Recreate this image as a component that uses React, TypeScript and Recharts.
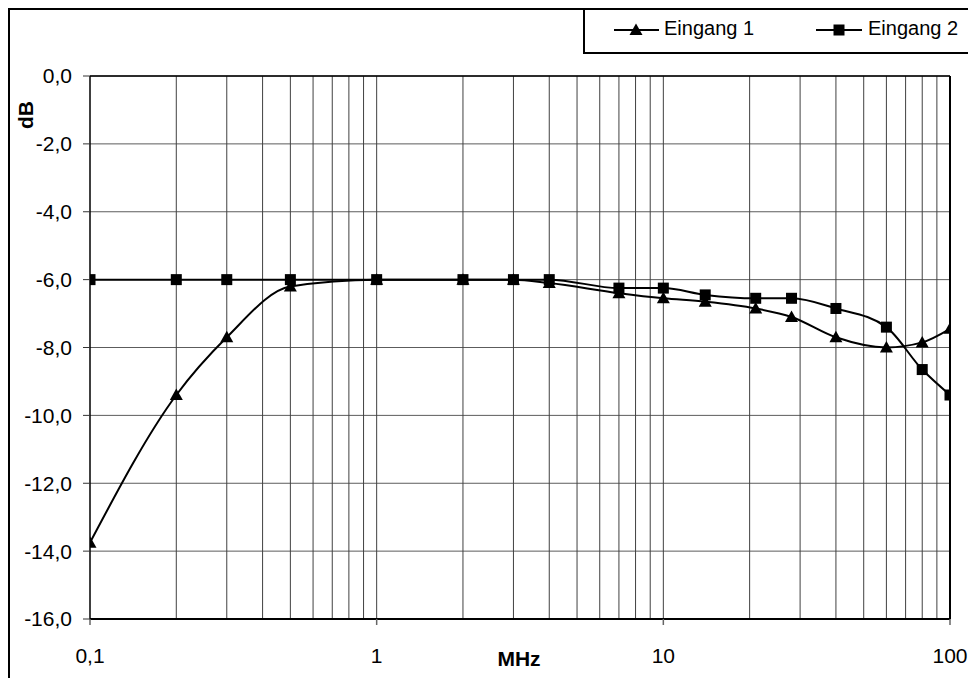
import React from 'react';
import {
  LineChart,
  Line,
  XAxis,
  YAxis,
  CartesianGrid,
  ReferenceLine,
  Legend,
  Label,
} from 'recharts';

const frequencies = [0.1, 0.2, 0.3, 0.5, 1, 2, 3, 4, 7, 10, 14, 21, 28, 40, 60, 80, 100];
const eingang1 = [-13.75, -9.4, -7.7, -6.2, -6.0, -6.0, -6.0, -6.1, -6.4, -6.55, -6.65, -6.85, -7.1, -7.7, -8.0, -7.85, -7.45];
const eingang2 = [-6.0, -6.0, -6.0, -6.0, -6.0, -6.0, -6.0, -6.0, -6.25, -6.25, -6.45, -6.55, -6.55, -6.85, -7.4, -8.65, -9.4];
const xTicks = [0.1, 1, 10, 100];
const yTicks = [-16, -14, -12, -10, -8, -6, -4, -2, 0];
const gridFreqs = [0.2, 0.3, 0.4, 0.5, 0.6, 0.7, 0.8, 0.9, 1, 2, 3, 4, 5, 6, 7, 8, 9, 10, 20, 30, 40, 50, 60, 70, 80, 90];
const seriesNames = ['Eingang 1', 'Eingang 2'];

const data = frequencies.map((f, i) => ({ f, e1: eingang1[i], e2: eingang2[i] }));

const FONT = '"Liberation Sans", Arial, sans-serif';

const fmtX = (v: number) => String(v).replace('.', ',');
const fmtY = (v: number) => v.toFixed(1).replace('.', ',');

const Triangle = (props: any) => {
  const { cx, cy, index } = props;
  if (cx == null || cy == null) return <g key={`t${index}`} />;
  return (
    <path
      key={`t${index}`}
      d={`M${cx},${cy - 6.5} L${cx + 6.5},${cy + 5} L${cx - 6.5},${cy + 5} Z`}
      fill="#000"
    />
  );
};

const Square = (props: any) => {
  const { cx, cy, index } = props;
  if (cx == null || cy == null) return <g key={`s${index}`} />;
  return <rect key={`s${index}`} x={cx - 5.5} y={cy - 5.5} width={11} height={11} fill="#000" />;
};

const LegendBox = () => (
  <div
    style={{
      position: 'relative',
      width: 400,
      height: 46,
      borderLeft: '2px solid #000',
      borderBottom: '2px solid #000',
      boxSizing: 'border-box',
      fontFamily: FONT,
      fontSize: 20,
      color: '#000',
    }}
  >
    <svg width={50} height={20} style={{ position: 'absolute', left: 29, top: 12 }}>
      <line x1={0} y1={10} x2={45} y2={10} stroke="#000" strokeWidth={2} />
      <path d="M22,3.5 L28.5,15 L15.5,15 Z" fill="#000" />
    </svg>
    <span style={{ position: 'absolute', left: 79, top: 9, whiteSpace: 'nowrap' }}>{seriesNames[0]}</span>
    <svg width={50} height={20} style={{ position: 'absolute', left: 231, top: 12 }}>
      <line x1={0} y1={10} x2={46} y2={10} stroke="#000" strokeWidth={2} />
      <rect x={17.5} y={4.5} width={11} height={11} fill="#000" />
    </svg>
    <span style={{ position: 'absolute', left: 283, top: 9, whiteSpace: 'nowrap' }}>{seriesNames[1]}</span>
  </div>
);

export default function App() {
  return (
    <div style={{ position: 'relative', width: 968, height: 670, fontFamily: FONT }}>
      <LineChart
        width={968}
        height={670}
        data={data}
        margin={{ top: 68, right: 26, left: 12, bottom: 9 }}
      >
        <CartesianGrid horizontal={true} vertical={false} stroke="#5c5c5c" strokeWidth={1} />
        {gridFreqs.map((g) => (
          <ReferenceLine key={`g${g}`} x={g} stroke="#404040" strokeWidth={1} ifOverflow="visible" />
        ))}
        <ReferenceLine y={0} stroke="#000" strokeWidth={1.5} />
        <ReferenceLine x={100} stroke="#000" strokeWidth={2} />
        <XAxis
          dataKey="f"
          type="number"
          scale="log"
          domain={[0.1, 100]}
          ticks={xTicks}
          tickFormatter={fmtX}
          allowDataOverflow
          height={50}
          tickSize={6}
          tickMargin={23}
          axisLine={{ stroke: '#000', strokeWidth: 2 }}
          tickLine={{ stroke: '#666', strokeWidth: 1.5 }}
          tick={{ fill: '#000', fontSize: 21, fontFamily: FONT }}
        >
          <Label
            content={() => (
              <text
                x={511}
                y={650}
                textAnchor="middle"
                dominantBaseline="central"
                fontSize={21}
                fontWeight="bold"
                fontFamily={FONT}
                fill="#000"
              >
                MHz
              </text>
            )}
          />
        </XAxis>
        <YAxis
          type="number"
          domain={[-16, 0]}
          ticks={yTicks}
          tickFormatter={fmtY}
          width={70}
          tickSize={7}
          tickMargin={11}
          axisLine={{ stroke: '#000', strokeWidth: 1.5 }}
          tickLine={{ stroke: '#333', strokeWidth: 1 }}
          tick={{ fill: '#000', fontSize: 21, fontFamily: FONT }}
        >
          <Label
            content={() => (
              <text
                x={17}
                y={107}
                transform="rotate(-90 17 107)"
                textAnchor="middle"
                dominantBaseline="central"
                fontSize={21}
                fontWeight="bold"
                fontFamily={FONT}
                fill="#000"
              >
                dB
              </text>
            )}
          />
        </YAxis>
        <Legend
          layout="horizontal"
          verticalAlign="middle"
          align="center"
          content={() => <LegendBox />}
          wrapperStyle={{ position: 'absolute', left: 575, top: 0, width: 400, height: 46 }}
        />
        <Line
          name={seriesNames[0]}
          dataKey="e1"
          type="monotone"
          stroke="#000"
          strokeWidth={2}
          dot={Triangle}
          activeDot={false}
          isAnimationActive={false}
        />
        <Line
          name={seriesNames[1]}
          dataKey="e2"
          type="monotone"
          stroke="#000"
          strokeWidth={2}
          dot={Square}
          activeDot={false}
          isAnimationActive={false}
        />
      </LineChart>
      <div
        style={{
          position: 'absolute',
          left: 0,
          top: 0,
          width: 968,
          height: 670,
          borderLeft: '2px solid #000',
          borderTop: '2px solid #000',
          boxSizing: 'border-box',
          pointerEvents: 'none',
        }}
      />
    </div>
  );
}
